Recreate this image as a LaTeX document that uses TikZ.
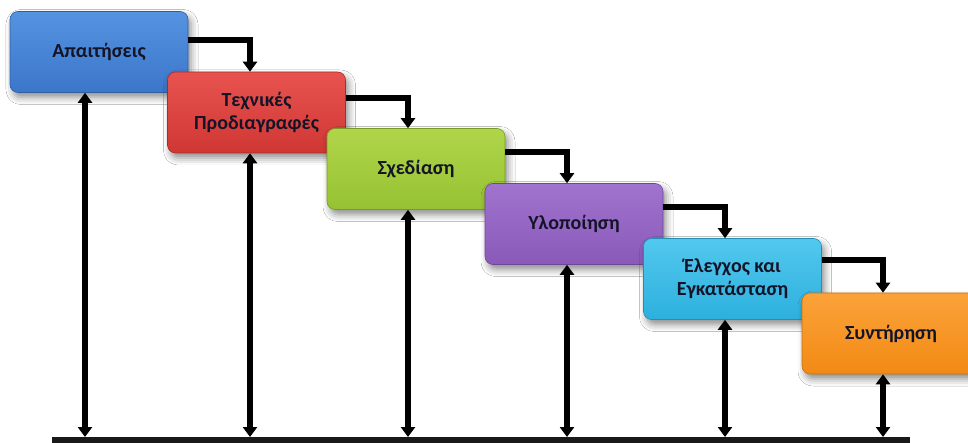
\documentclass[tikz,border=0pt]{standalone}
\usepackage{fontspec}
\setmainfont{Carlito}
\usetikzlibrary{arrows.meta,shadows.blur,calc}

\definecolor{blueTop}{HTML}{5593E0}
\definecolor{blueBot}{HTML}{3C76CA}
\definecolor{redTop}{HTML}{E85350}
\definecolor{redBot}{HTML}{CF3733}
\definecolor{greenTop}{HTML}{B0D54A}
\definecolor{greenBot}{HTML}{96C232}
\definecolor{purpleTop}{HTML}{A074CE}
\definecolor{purpleBot}{HTML}{8A59B9}
\definecolor{cyanTop}{HTML}{52C8EE}
\definecolor{cyanBot}{HTML}{2DB0DE}
\definecolor{orangeTop}{HTML}{FBA23A}
\definecolor{orangeBot}{HTML}{F28A14}
\definecolor{ink}{HTML}{141428}

\tikzset{
  phase/.style args={#1/#2}{
    rounded corners=8pt, minimum width=178pt, minimum height=81pt,
    inner sep=2pt, align=center, text=ink,
    font=\fontsize{20}{23}\selectfont\bfseries,
    top color=#1, bottom color=#2, draw=#2!80!black, line width=0.6pt,
    blur shadow={shadow xshift=3pt, shadow yshift=-5pt,
                 shadow blur radius=7pt, shadow opacity=45}},
  link/.style={line width=6pt, -{Triangle[width=14pt,length=10pt]}},
  feedback/.style={line width=6pt, {Triangle[width=14pt,length=10pt]}-{Triangle[width=14pt,length=10pt]}},
  haze/.style={line width=14pt, draw=black, opacity=0.06},
  baseline bar/.style={fill=black!90, inner sep=0pt, minimum width=858pt, minimum height=8pt}
}

\begin{document}
\begin{tikzpicture}[x=1pt,y=-1pt]
  \useasboundingbox[fill=white] (0,0) rectangle (968,443);

  % points where the feedback arrows meet the base bar
  \coordinate (a1) at (85,437);
  \coordinate (a2) at (250,437);
  \coordinate (a3) at (408,437);
  \coordinate (a4) at (567,437);
  \coordinate (a5) at (725,437);
  \coordinate (a6) at (883,437);

  % soft shading beside the vertical arrows
  \foreach \i/\t in {1/92,2/153,3/210,4/265,5/320,6/375}{
    \draw[haze] ($(a\i)+(5,0)$) -- ($(a\i)+(5,0)$ |- 0,\t);
  }

  % the phases, each one in front of the previous one
  \node[phase=blueTop/blueBot]     (b1) at (99,52)      {Απαιτήσεις};
  \node[phase=redTop/redBot]       (b2) at (256.5,112.5) {Τεχνικές\\Προδιαγραφές};
  \node[phase=greenTop/greenBot]   (b3) at (416,169)    {Σχεδίαση};
  \node[phase=purpleTop/purpleBot] (b4) at (574,224)    {Υλοποίηση};
  \node[phase=cyanTop/cyanBot]     (b5) at (732.5,279)  {Έλεγχος και\\Εγκατάσταση};
  \node[phase=orangeTop/orangeBot] (b6) at (891,333.5)  {Συντήρηση};

  % base bar
  \node[baseline bar, anchor=north west] (base) at (52,437) {};

  % links from each phase to the next one
  \draw[link] ($(b1.north east)+(0,29)$) -| (b2.north -| a2);
  \draw[link] ($(b2.north east)+(0,26)$) -| (b3.north -| a3);
  \draw[link] ($(b3.north east)+(0,24)$) -| (b4.north -| a4);
  \draw[link] ($(b4.north east)+(0,24)$) -| (b5.north -| a5);
  \draw[link] ($(b5.north east)+(0,22)$) -| (b6.north -| a6);

  % feedback arrows between every phase and the base bar
  \draw[feedback] (b1.south -| a1) -- (a1);
  \draw[feedback] (b2.south -| a2) -- (a2);
  \draw[feedback] (b3.south -| a3) -- (a3);
  \draw[feedback] (b4.south -| a4) -- (a4);
  \draw[feedback] (b5.south -| a5) -- (a5);
  \draw[feedback] (b6.south -| a6) -- (a6);
\end{tikzpicture}
\end{document}
